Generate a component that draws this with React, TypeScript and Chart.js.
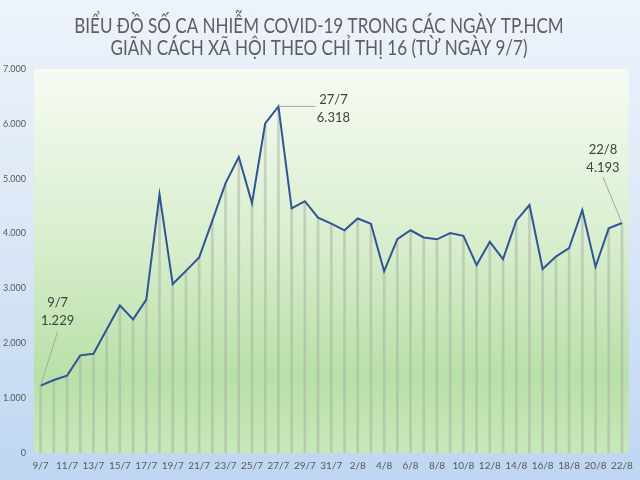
import React, { useEffect, useRef } from "react";
import { Chart, registerables } from "chart.js";

Chart.register(...registerables);

const titleLines = [
  "BIỂU ĐỒ SỐ CA NHIỄM COVID-19 TRONG CÁC NGÀY TP.HCM",
  "GIÃN CÁCH XÃ HỘI THEO CHỈ THỊ 16 (TỪ NGÀY 9/7)",
];

const julyDays = [9, 10, 11, 12, 13, 14, 15, 16, 17, 18, 19, 20, 21, 22, 23, 24, 25, 26, 27, 28, 29, 30, 31];
const augustDays = [1, 2, 3, 4, 5, 6, 7, 8, 9, 10, 11, 12, 13, 14, 15, 16, 17, 18, 19, 20, 21, 22];

const categories = [
  ...julyDays.map((d) => `${d}/7`),
  ...augustDays.map((d) => `${d}/8`),
];

const julyCases = [
  1229, 1330, 1410, 1780, 1810, 2250, 2690, 2435, 2795, 4715, 3080, 3320,
  3565, 4235, 4920, 5395, 4555, 6010, 6318, 4460, 4590, 4290, 4180,
];
const augustCases = [
  4060, 4275, 4180, 3315, 3900, 4060, 3930, 3895, 4010, 3960, 3425, 3850,
  3535, 4235, 4520, 3355, 3580, 3735, 4430, 3395, 4095, 4193,
];
const cases = [...julyCases, ...augustCases];

const yTicks = [0, 1000, 2000, 3000, 4000, 5000, 6000, 7000];

// highlighted points (index into categories)
const callouts = [
  { index: 0, text: ["9/7", "1.229"], tx: 17, ty: -83, lx: 17, ly: -54 },
  { index: 18, text: ["27/7", "6.318"], tx: 55, ty: -7, lx: 37, ly: 0 },
  { index: 44, text: ["22/8", "4.193"], tx: -19, ty: -73, lx: -19, ly: -46 },
];

const fmt = (v: number) => v.toString().replace(/\B(?=(\d{3})+(?!\d))/g, ".");

const FONT = "Lato, 'Open Sans', sans-serif";

export default function App() {
  const ref = useRef<HTMLCanvasElement | null>(null);

  useEffect(() => {
    if (!ref.current) return;

    const bgPlugin = {
      id: "plotBg",
      beforeDraw(chart: any) {
        const { ctx, chartArea } = chart;
        const g = ctx.createLinearGradient(0, chartArea.top, 0, chartArea.bottom);
        g.addColorStop(0, "#f7fbf3");
        g.addColorStop(0.45, "#d8eecd");
        g.addColorStop(0.8, "#b9e0a8");
        g.addColorStop(1, "#c8e8b9");
        ctx.save();
        ctx.fillStyle = g;
        ctx.fillRect(chartArea.left, chartArea.top, chartArea.right - chartArea.left, chartArea.bottom - chartArea.top);
        ctx.restore();
      },
    };

    const titlePlugin = {
      id: "condensedTitle",
      afterDraw(chart: any) {
        const { ctx, width } = chart;
        ctx.save();
        ctx.fillStyle = "#5e5e5e";
        ctx.font = `22px ${FONT}`;
        ctx.textAlign = "center";
        ctx.textBaseline = "alphabetic";
        const baselines = [33, 55];
        titleLines.forEach((t, i) => {
          ctx.save();
          ctx.translate(width / 2 - 1, baselines[i]);
          ctx.scale(0.775, 1);
          ctx.fillText(t, 0, 0);
          ctx.restore();
        });
        ctx.restore();
      },
    };

    const calloutPlugin = {
      id: "callouts",
      afterDatasetsDraw(chart: any) {
        const { ctx, scales } = chart;
        ctx.save();
        for (const c of callouts) {
          const px = scales.x.getPixelForValue(c.index);
          const py = scales.y.getPixelForValue(cases[c.index]);
          ctx.strokeStyle = "#a6a6a6";
          ctx.lineWidth = 1;
          ctx.beginPath();
          ctx.moveTo(px, py);
          ctx.lineTo(px + c.lx, py + c.ly);
          ctx.stroke();
          ctx.fillStyle = "#404040";
          ctx.font = `13px ${FONT}`;
          ctx.textAlign = "center";
          ctx.textBaseline = "middle";
          c.text.forEach((t, i) => {
            ctx.fillText(t, px + c.tx, py + c.ty + i * 18);
          });
        }
        ctx.restore();
      },
    };

    const chart = new Chart(ref.current, {
      type: "bar",
      data: {
        labels: categories,
        datasets: [
          {
            type: "line",
            label: "Số ca nhiễm",
            data: cases,
            borderColor: "#2f5597",
            borderWidth: 2,
            pointRadius: 0,
            tension: 0,
            fill: false,
          },
          {
            type: "bar",
            label: "drop",
            data: cases,
            backgroundColor: "rgba(165,176,162,0.5)",
            barThickness: 2,
          },
        ],
      },
      options: {
        animation: false,
        responsive: false,
        layout: { padding: { left: 0, right: 8, top: 69, bottom: 0 } },
        plugins: {
          legend: { display: false },
          tooltip: { enabled: false },
          title: { display: false },
        },
        scales: {
          x: {
            offset: true,
            grid: { display: false, drawTicks: false },
            border: { display: false },
            ticks: {
              autoSkip: false,
              maxRotation: 0,
              padding: 7,
              color: "#595959",
              font: { size: 10, family: FONT },
              callback: (_v: any, i: number) => (i % 2 === 0 ? categories[i] : ""),
            },
            afterFit: (s: any) => {
              s.height = 27;
            },
          },
          y: {
            min: 0,
            max: 7000,
            afterBuildTicks: (s: any) => {
              s.ticks = yTicks.map((v) => ({ value: v }));
            },
            grid: { display: false, drawTicks: false },
            border: { display: false },
            ticks: {
              padding: 8,
              color: "#595959",
              font: { size: 9, family: FONT },
              callback: (v: any) => fmt(Number(v)),
            },
            afterFit: (s: any) => {
              s.width = 34;
            },
          },
        },
      },
      plugins: [bgPlugin, titlePlugin, calloutPlugin],
    });

    return () => chart.destroy();
  }, []);

  return (
    <div
      style={{
        position: "fixed",
        left: 0,
        top: 0,
        width: 640,
        height: 480,
        background: "linear-gradient(to bottom, #edf3fb 0%, #dde8f7 45%, #bed6f1 100%)",
      }}
    >
      <canvas ref={ref} width={640} height={480} style={{ display: "block" }} />
    </div>
  );
}
